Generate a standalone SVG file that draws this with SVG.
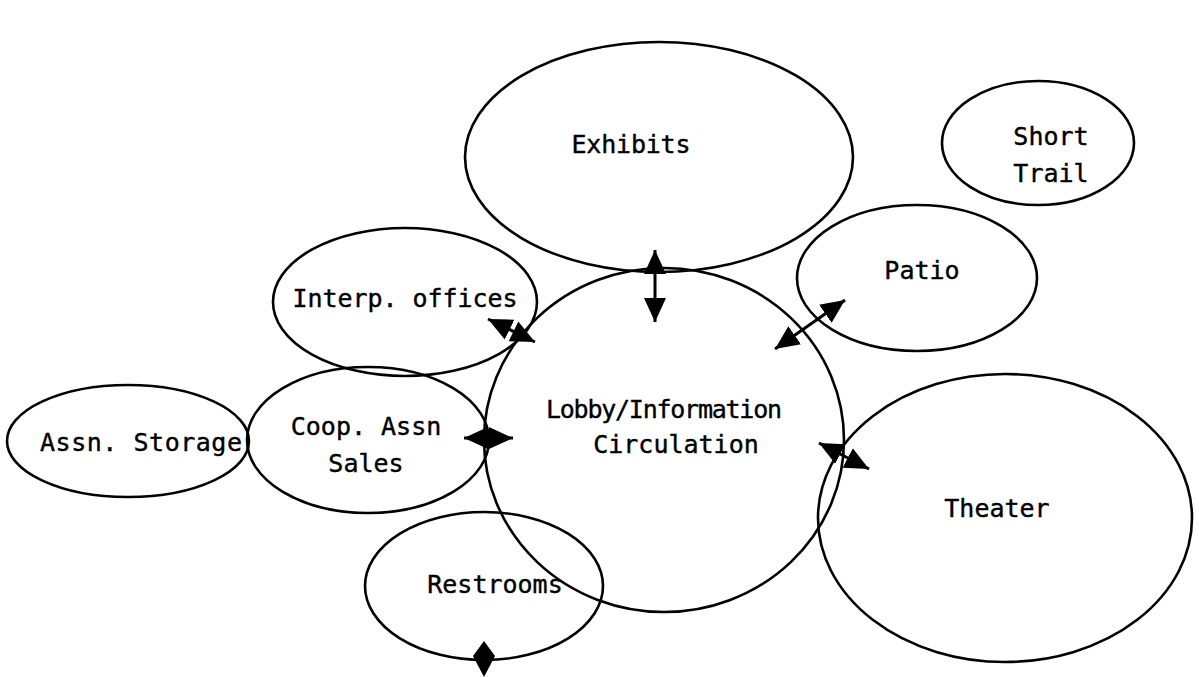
<svg xmlns="http://www.w3.org/2000/svg" width="1199" height="677" viewBox="0 0 1199 677">
<style>
.n ellipse{fill:none;stroke:#000;stroke-width:2.6}
text{font-family:"DejaVu Sans Mono","Liberation Mono",monospace;font-size:25px;fill:#000;stroke:#000;stroke-width:0.4;text-anchor:middle}
.c line{stroke:#000;stroke-width:3;marker-start:url(#ah);marker-end:url(#ah)}
</style>
<defs>
<marker id="ah" markerUnits="userSpaceOnUse" markerWidth="26" markerHeight="24" refX="24" refY="11" orient="auto-start-reverse" viewBox="0 0 26 22">
<path d="M0,0 L24,11 L0,22 Z" fill="#000"/>
</marker>
</defs>
<rect width="1199" height="677" fill="#fff"/>
<g id="exhibits" class="n"><ellipse cx="659" cy="157" rx="194" ry="115"/><text x="631" y="153" textLength="119">Exhibits</text></g>
<g id="short-trail" class="n"><ellipse cx="1038" cy="143" rx="96" ry="62"/><text x="1051" y="145">Short</text><text x="1051" y="182">Trail</text></g>
<g id="patio" class="n"><ellipse cx="917" cy="278" rx="120" ry="73"/><text x="922" y="279">Patio</text></g>
<g id="interp-offices" class="n"><ellipse cx="405" cy="302" rx="132" ry="74"/><text x="405" y="307" textLength="225">Interp. offices</text></g>
<g id="lobby" class="n"><ellipse cx="664" cy="440" rx="180" ry="172"/><text x="664" y="418" textLength="236">Lobby/Information</text><text x="676" y="453">Circulation</text></g>
<g id="coop-sales" class="n"><ellipse cx="368" cy="440" rx="121" ry="73"/><text x="366" y="435">Coop. Assn</text><text x="366" y="472">Sales</text></g>
<g id="assn-storage" class="n"><ellipse cx="128" cy="441" rx="121" ry="56"/><text x="141" y="451" textLength="202">Assn. Storage</text></g>
<g id="theater" class="n"><ellipse cx="1005" cy="518" rx="187" ry="144"/><text x="997" y="517">Theater</text></g>
<g id="restrooms" class="n"><ellipse cx="484" cy="586" rx="119" ry="74"/><text x="495" y="593">Restrooms</text></g>
<g id="connectors" class="c">
<line x1="655" y1="250" x2="655" y2="322"/>
<line x1="488" y1="319" x2="535" y2="342"/>
<line x1="775" y1="349" x2="845" y2="300"/>
<line x1="464" y1="438" x2="513" y2="438"/>
<line x1="819" y1="443" x2="869" y2="469"/>
<path d="M484,641 L495,656 L484,677 L473,656 Z" fill="#000"/>
</g>
</svg>
